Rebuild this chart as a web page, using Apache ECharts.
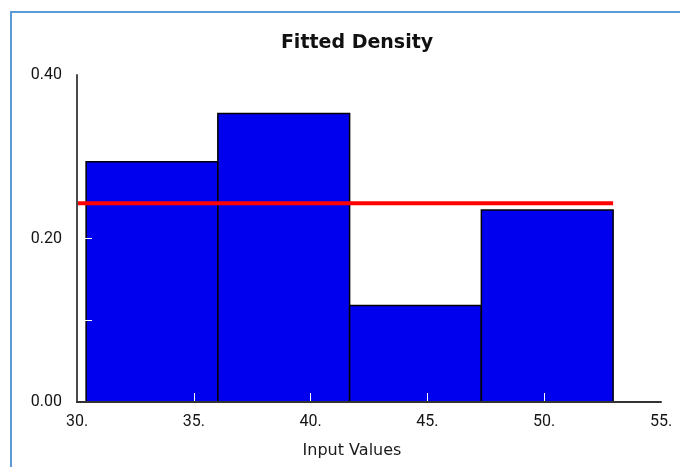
<!DOCTYPE html>
<html>
<head>
<meta charset="utf-8">
<style>
  html, body { margin: 0; padding: 0; background: #ffffff; }
  #chart { width: 680px; height: 467px; }
</style>
<script src="https://cdn.jsdelivr.net/npm/echarts@6/dist/echarts.min.js"></script>
</head>
<body>
<div id="chart"></div>
<script>
// Histogram bins (edges) and relative-frequency heights
const binEdges = [30.39, 36.03, 41.67, 47.31, 52.95];
const binDensity = [0.294, 0.353, 0.118, 0.235];

// Fitted density curve (flat)
const fitX = [30.0, 52.95];
const fitY = [0.243, 0.243];

// Axis ticks
const xTicks = [30, 35, 40, 45, 50, 55];
const yLabelValues = [0.0, 0.2, 0.4];

const histData = binDensity.map((d, i) => [binEdges[i], binEdges[i + 1], d]);
const fitData = fitX.map((x, i) => [x, fitY[i]]);

const chart = echarts.init(document.getElementById('chart'), null, { renderer: 'canvas' });

const tickFont = { fontFamily: 'Roboto', fontSize: 16, color: '#141414' };
const xMin = xTicks[0], xMax = xTicks[xTicks.length - 1];

chart.setOption({
  animation: false,
  backgroundColor: '#ffffff',
  title: {
    text: 'Fitted Density',
    left: 352,
    top: 29,
    textAlign: 'center',
    textStyle: { fontFamily: 'DejaVu Sans', fontWeight: 'bold', fontSize: 19, color: '#111111' }
  },
  graphic: [{
    type: 'polyline',
    shape: { points: [[11, 467], [11, 12], [680, 12]] },
    style: { stroke: '#5b9bd5', lineWidth: 2, fill: null },
    silent: true
  }],
  grid: { left: 77, right: 19, top: 75, bottom: 65, containLabel: false },
  xAxis: [{
    // ticks, labels and axis title
    type: 'value',
    min: xMin,
    max: xMax,
    interval: 5,
    z: 3,
    name: 'Input Values',
    nameLocation: 'middle',
    nameGap: 41,
    nameTextStyle: { fontFamily: 'DejaVu Sans', fontSize: 16, color: '#1a1a1a', padding: [0, 34, 0, 0] },
    axisLine: { show: false },
    axisTick: { show: true, inside: true, length: 9, lineStyle: { color: '#ffffff', width: 1 } },
    axisLabel: Object.assign({ margin: 12, formatter: v => v + '.' }, tickFont),
    splitLine: { show: false }
  }, {
    // axis line drawn above the ticks
    type: 'value',
    position: 'bottom',
    min: xMin,
    max: xMax,
    interval: 5,
    z: 5,
    axisLine: { show: true, onZero: false, lineStyle: { color: '#333333', width: 2 } },
    axisTick: { show: false },
    axisLabel: { show: false },
    splitLine: { show: false }
  }],
  yAxis: [{
    type: 'value',
    min: 0,
    max: 0.4,
    interval: 0.1,
    z: 3,
    axisLine: { show: false },
    axisTick: { show: true, inside: true, length: 15, lineStyle: { color: '#ffffff', width: 1 } },
    axisLabel: Object.assign({
      margin: 15,
      formatter: v => yLabelValues.some(t => Math.abs(t - v) < 1e-9) ? v.toFixed(2) : ''
    }, tickFont),
    splitLine: { show: false }
  }, {
    type: 'value',
    position: 'left',
    min: 0,
    max: 0.4,
    interval: 0.1,
    z: 5,
    axisLine: { show: true, onZero: false, lineStyle: { color: '#4a4a4a', width: 2 } },
    axisTick: { show: false },
    axisLabel: { show: false },
    splitLine: { show: false }
  }],
  series: [{
    type: 'custom',
    z: 2,
    data: histData,
    renderItem: function (params, api) {
      const p0 = api.coord([api.value(0), 0]);
      const p1 = api.coord([api.value(1), api.value(2)]);
      return {
        type: 'rect',
        shape: { x: p0[0], y: p1[1], width: p1[0] - p0[0], height: p0[1] - p1[1] },
        style: { fill: '#0000ee', stroke: '#000000', lineWidth: 1.5 }
      };
    },
    encode: { x: [0, 1], y: 2 }
  }, {
    type: 'line',
    z: 4,
    data: fitData,
    symbol: 'none',
    lineStyle: { color: '#ff0000', width: 4 }
  }]
});
</script>
</body>
</html>
